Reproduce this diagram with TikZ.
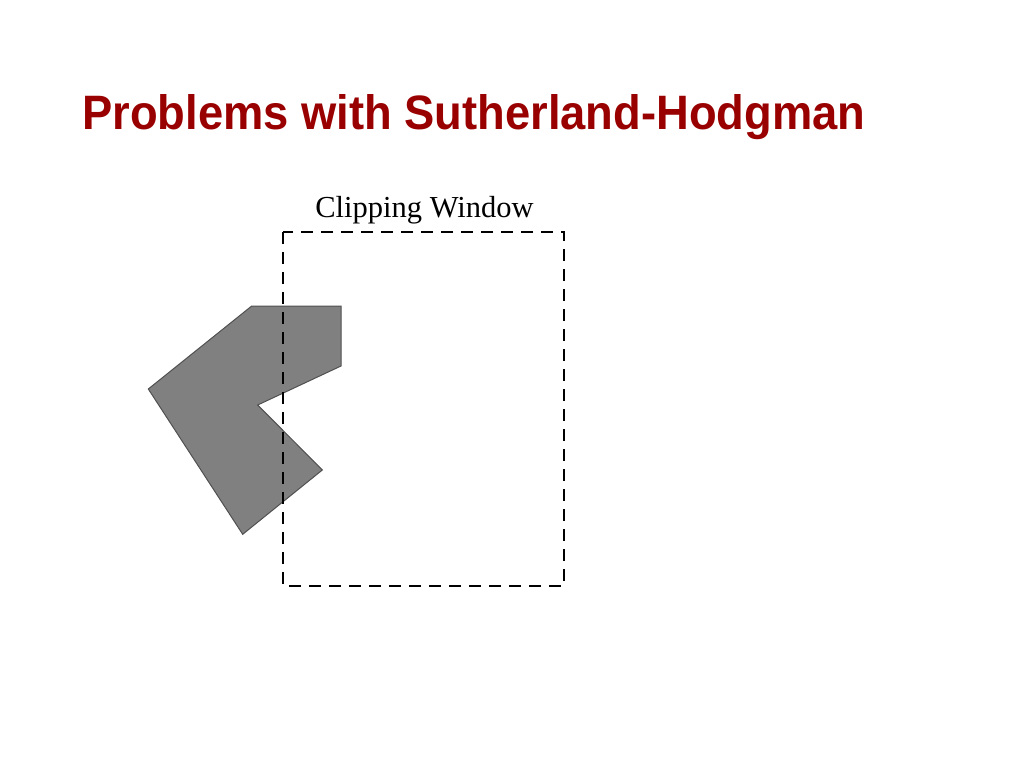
\documentclass[tikz,border=0pt]{standalone}
\usepackage{fontspec}
\setmainfont{Liberation Serif}
\newfontfamily\titlefont{Liberation Sans}
\definecolor{titlered}{HTML}{990000}
\definecolor{polyfill}{HTML}{808080}
\definecolor{polyline}{HTML}{505050}
\tikzset{
  titlestyle/.style={anchor=base west, inner sep=0pt, text=titlered, font=\titlefont\bfseries},
  labelstyle/.style={anchor=base, inner sep=0pt, font=\fontsize{30.5}{36}\selectfont},
  windowstyle/.style={draw=black, line width=1.8pt, dash pattern=on 12pt off 8pt},
  polystyle/.style={fill=polyfill, draw=polyline, line width=1pt, line join=miter}
}
\begin{document}
\begin{tikzpicture}[x=1pt,y=-1pt]
\useasboundingbox (0,0) rectangle (1024,768);
\node[titlestyle] (title) at (82,129) {\resizebox{783pt}{35pt}{\titlefont\bfseries Problems with Sutherland-Hodgman}};
% polygon
\draw[polystyle] (251.7,306) -- (341,306) -- (341,366) -- (257.7,405) -- (322.3,470) -- (242.7,534.3) -- (148.3,389) -- cycle;
% clipping window
\draw[windowstyle] (283,232) rectangle (564,586);
\node[labelstyle] (label) at (424.5,217.5) {Clipping Window};
\end{tikzpicture}
\end{document}
